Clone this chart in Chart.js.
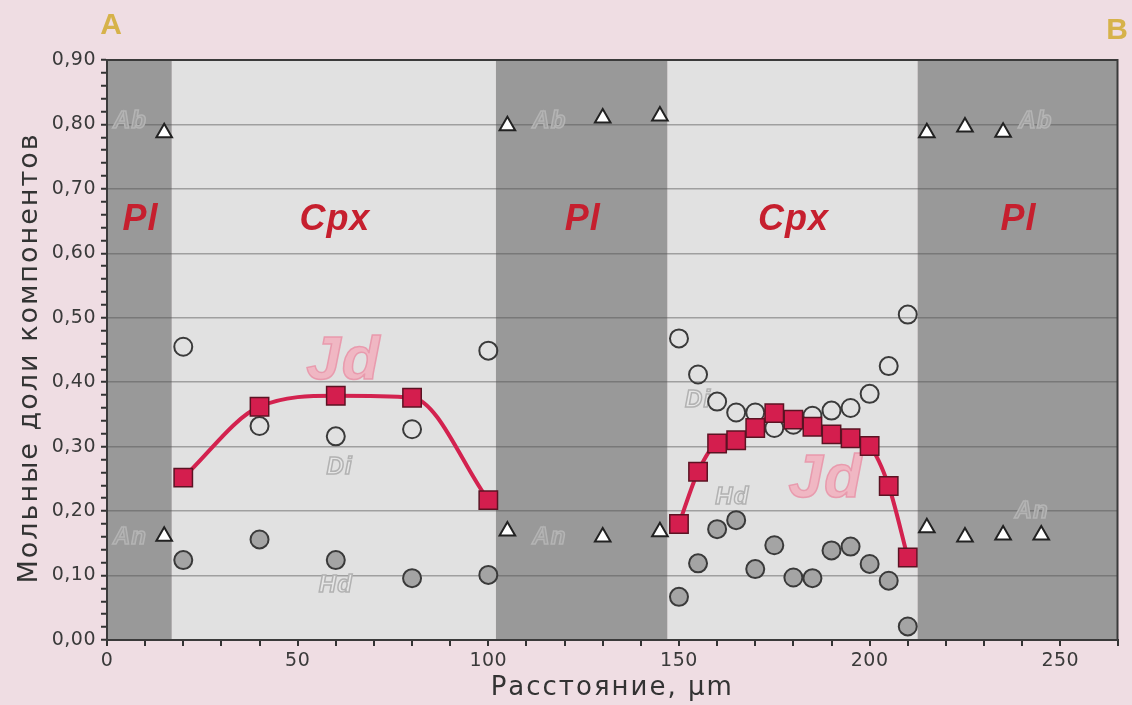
<!DOCTYPE html>
<html>
<head>
<meta charset="utf-8">
<script src="https://cdn.jsdelivr.net/npm/chart.js@4"></script>
<style>
  html, body { margin: 0; padding: 0; background: #efdde3; }
  #wrap { width: 1132px; height: 705px; position: relative; }
</style>
</head>
<body>
<div id="wrap"><canvas id="chart" width="1132" height="705"></canvas></div>
<script>
// distances, µm
const xLeft = [20, 40, 60, 80, 100];
const xRight = [150, 155, 160, 165, 170, 175, 180, 185, 190, 195, 200, 205, 210];

const jdLeft = [0.252, 0.362, 0.379, 0.376, 0.217];
const jdRight = [0.180, 0.261, 0.305, 0.310, 0.329, 0.352, 0.342, 0.331, 0.319, 0.313, 0.301, 0.239, 0.128];

const diLeft = [0.455, 0.332, 0.316, 0.327, 0.449];
const diRight = [0.468, 0.412, 0.370, 0.353, 0.353, 0.329, 0.334, 0.348, 0.356, 0.360, 0.382, 0.425, 0.505];

const hdLeft = [0.124, 0.156, 0.124, 0.096, 0.101];
const hdRight = [0.067, 0.119, 0.172, 0.186, 0.110, 0.147, 0.097, 0.096, 0.139, 0.145, 0.118, 0.092, 0.021];

// plagioclase
const xAb = [15, 105, 130, 145, 215, 225, 235];
const ab = [0.787, 0.798, 0.810, 0.813, 0.787, 0.796, 0.788];
const xAn = [15, 105, 130, 145, 215, 225, 235, 245];
const an = [0.161, 0.169, 0.160, 0.168, 0.174, 0.160, 0.163, 0.163];

// зоны: [от, до, минерал]
const zones = [[0, 17, 'Pl'], [17, 102, 'Cpx'], [102, 147, 'Pl'], [147, 212.6, 'Cpx'], [212.6, 265, 'Pl']];

const xTitle = 'Расстояние, µm';
const yTitle = 'Мольные доли компонентов';

function pts(xs, ys) {
    return xs.map((x, i) => ({x: x, y: ys[i]}));
}

const isMajor = v => Math.abs(v * 10 - Math.round(v * 10)) < 1e-6;
const FONT = '"DejaVu Sans"';

const bgPlugin = {
    id: 'bands',
    beforeUpdate(chart) {
        chart.ctx.letterSpacing = '0.5px';
    },
    beforeDraw(chart) {
        const {ctx, chartArea, scales} = chart;
        ctx.letterSpacing = '0.5px';
        ctx.save();
        zones.forEach(z => {
            const x1 = scales.x.getPixelForValue(z[0]);
            const x2 = scales.x.getPixelForValue(z[1]);
            ctx.fillStyle = z[2] == 'Pl' ? '#999999' : '#e1e1e1';
            ctx.fillRect(x1, chartArea.top, x2 - x1, chartArea.bottom - chartArea.top);
        });
        ctx.restore();
    },
    beforeDatasetsDraw(chart) {
        const {ctx, chartArea, scales} = chart;
        const px = v => scales.x.getPixelForValue(v);
        const py = v => scales.y.getPixelForValue(v);
        ctx.save();
        ctx.textAlign = 'center';
        ctx.textBaseline = 'middle';

        // минералы
        ctx.letterSpacing = '1px';
        ctx.fillStyle = '#c61f2e';
        ctx.font = 'italic bold 36px "Liberation Sans"';
        zones.forEach(z => {
            ctx.fillText(z[2], px((z[0] + z[1]) / 2) + 1, py(0.652));
        });

        // Jd
        ctx.font = 'italic bold 62px "Liberation Sans"';
        ctx.fillStyle = 'rgba(242,178,192,0.9)';
        ctx.strokeStyle = 'rgba(232,150,170,0.9)';
        ctx.lineWidth = 1.5;
        [[62, 0.431], [188.5, 0.248]].forEach(p => {
            ctx.fillText('Jd', px(p[0]), py(p[1]));
            ctx.strokeText('Jd', px(p[0]), py(p[1]));
        });

        // контурные подписи
        function outline(t, x, y, fill, stroke) {
            ctx.font = 'italic bold 24px "Liberation Sans"';
            ctx.letterSpacing = '1px';
            ctx.fillStyle = fill;
            ctx.strokeStyle = stroke;
            ctx.lineWidth = 1.5;
            ctx.fillText(t, px(x), py(y));
            ctx.strokeText(t, px(x), py(y));
        }
        outline('Di', 61, 0.268, '#e6e6e6', '#b2b2b2');
        outline('Di', 155, 0.372, '#e6e6e6', '#b2b2b2');
        outline('Hd', 60, 0.085, '#e6e6e6', '#b2b2b2');
        outline('Hd', 164, 0.222, '#e6e6e6', '#b2b2b2');
        outline('Ab', 6, 0.804, '#a0a0a0', '#b4b4b4');
        outline('Ab', 116, 0.804, '#a0a0a0', '#b4b4b4');
        outline('Ab', 243.5, 0.804, '#a0a0a0', '#b4b4b4');
        outline('An', 6, 0.160, '#a0a0a0', '#b4b4b4');
        outline('An', 116, 0.160, '#a0a0a0', '#b4b4b4');
        outline('An', 242.5, 0.199, '#a0a0a0', '#b4b4b4');

        ctx.restore();
    },
    afterDraw(chart) {
        const {ctx, chartArea} = chart;
        ctx.save();
        ctx.strokeStyle = '#3a3a3a';
        ctx.lineWidth = 2;
        ctx.strokeRect(chartArea.left, chartArea.top, chartArea.right - chartArea.left, chartArea.bottom - chartArea.top);

        // подписи осей
        ctx.fillStyle = '#333';
        ctx.textAlign = 'center';
        ctx.textBaseline = 'middle';
        ctx.letterSpacing = '2px';
        ctx.font = '26px ' + FONT;
        ctx.fillText(xTitle, (chartArea.left + chartArea.right) / 2, 688);
        ctx.translate(30, 358);
        ctx.rotate(-Math.PI / 2);
        ctx.font = '27px ' + FONT;
        ctx.fillText(yTitle, 0, 0);
        ctx.restore();

        ctx.save();
        ctx.letterSpacing = '0px';
        ctx.font = 'bold 30px "Liberation Sans"';
        ctx.fillStyle = '#d6b24a';
        ctx.textBaseline = 'middle';
        ctx.textAlign = 'center';
        ctx.fillText('A', 111, 26);
        ctx.fillText('B', 1117, 31);
        ctx.restore();
    }
};

const ctx = document.getElementById('chart').getContext('2d');
const chart = new Chart(ctx, {
    type: 'scatter',
    data: {
        datasets: [
            {
                label: 'Jd',
                data: pts(xLeft, jdLeft),
                showLine: true,
                cubicInterpolationMode: 'monotone',
                borderColor: '#d3224f',
                borderWidth: 4,
                pointStyle: 'rect',
                pointRadius: 13,
                pointBackgroundColor: '#d41e4e',
                pointBorderColor: '#5b1323',
                pointBorderWidth: 1.5
            },
            {
                label: 'Jd',
                data: pts(xRight, jdRight),
                showLine: true,
                cubicInterpolationMode: 'monotone',
                borderColor: '#d3224f',
                borderWidth: 4,
                pointStyle: 'rect',
                pointRadius: 13,
                pointBackgroundColor: '#d41e4e',
                pointBorderColor: '#5b1323',
                pointBorderWidth: 1.5
            },
            {
                label: 'Di',
                data: pts(xLeft, diLeft).concat(pts(xRight, diRight)),
                pointRadius: 9,
                pointBackgroundColor: 'rgba(0,0,0,0)',
                pointBorderColor: '#3a3a3a',
                pointBorderWidth: 2
            },
            {
                label: 'Hd',
                data: pts(xLeft, hdLeft).concat(pts(xRight, hdRight)),
                pointRadius: 9,
                pointBackgroundColor: '#a4a4a4',
                pointBorderColor: '#3a3a3a',
                pointBorderWidth: 2
            },
            {
                label: 'Ab',
                data: pts(xAb, ab),
                pointStyle: 'triangle',
                pointRadius: 9,
                pointBackgroundColor: '#ffffff',
                pointBorderColor: '#222',
                pointBorderWidth: 2
            },
            {
                label: 'An',
                data: pts(xAn, an),
                pointStyle: 'triangle',
                pointRadius: 9,
                pointBackgroundColor: '#ffffff',
                pointBorderColor: '#222',
                pointBorderWidth: 2
            }
        ]
    },
    options: {
        responsive: false,
        animation: false,
        layout: {
            padding: {top: 60, right: 13, bottom: 0, left: 10}
        },
        plugins: {
            legend: {display: false},
            tooltip: {enabled: false}
        },
        scales: {
            x: {
                type: 'linear',
                min: 0,
                max: 265,
                afterFit: s => { s.height = 65; },
                border: {display: true, color: '#333', width: 2},
                grid: {drawOnChartArea: false, drawTicks: true, tickLength: 6, tickColor: '#333', lineWidth: 2},
                ticks: {
                    stepSize: 10,
                    autoSkip: false,
                    maxRotation: 0,
                    padding: 4,
                    color: '#3a3a3a',
                    font: {family: FONT, size: 19},
                    callback: v => (v % 50 == 0 ? String(v) : '')
                }
            },
            y: {
                min: 0,
                max: 0.9,
                afterFit: s => { s.width = 97; },
                border: {display: true, color: '#333', width: 2},
                grid: {
                    drawTicks: true,
                    tickLength: 6,
                    tickColor: '#333',
                    tickWidth: 2,
                    color: c => (isMajor(c.tick.value) && c.tick.value > 0 && c.tick.value < 0.9 ? 'rgba(80,80,80,0.45)' : 'rgba(0,0,0,0)'),
                    lineWidth: 1.5
                },
                ticks: {
                    stepSize: 0.02,
                    autoSkip: false,
                    padding: 5,
                    color: '#3a3a3a',
                    font: {family: FONT, size: 19},
                    callback: v => (isMajor(v) ? v.toFixed(2).replace('.', ',') : '')
                }
            }
        }
    },
    plugins: [bgPlugin]
});
</script>
</body>
</html>
